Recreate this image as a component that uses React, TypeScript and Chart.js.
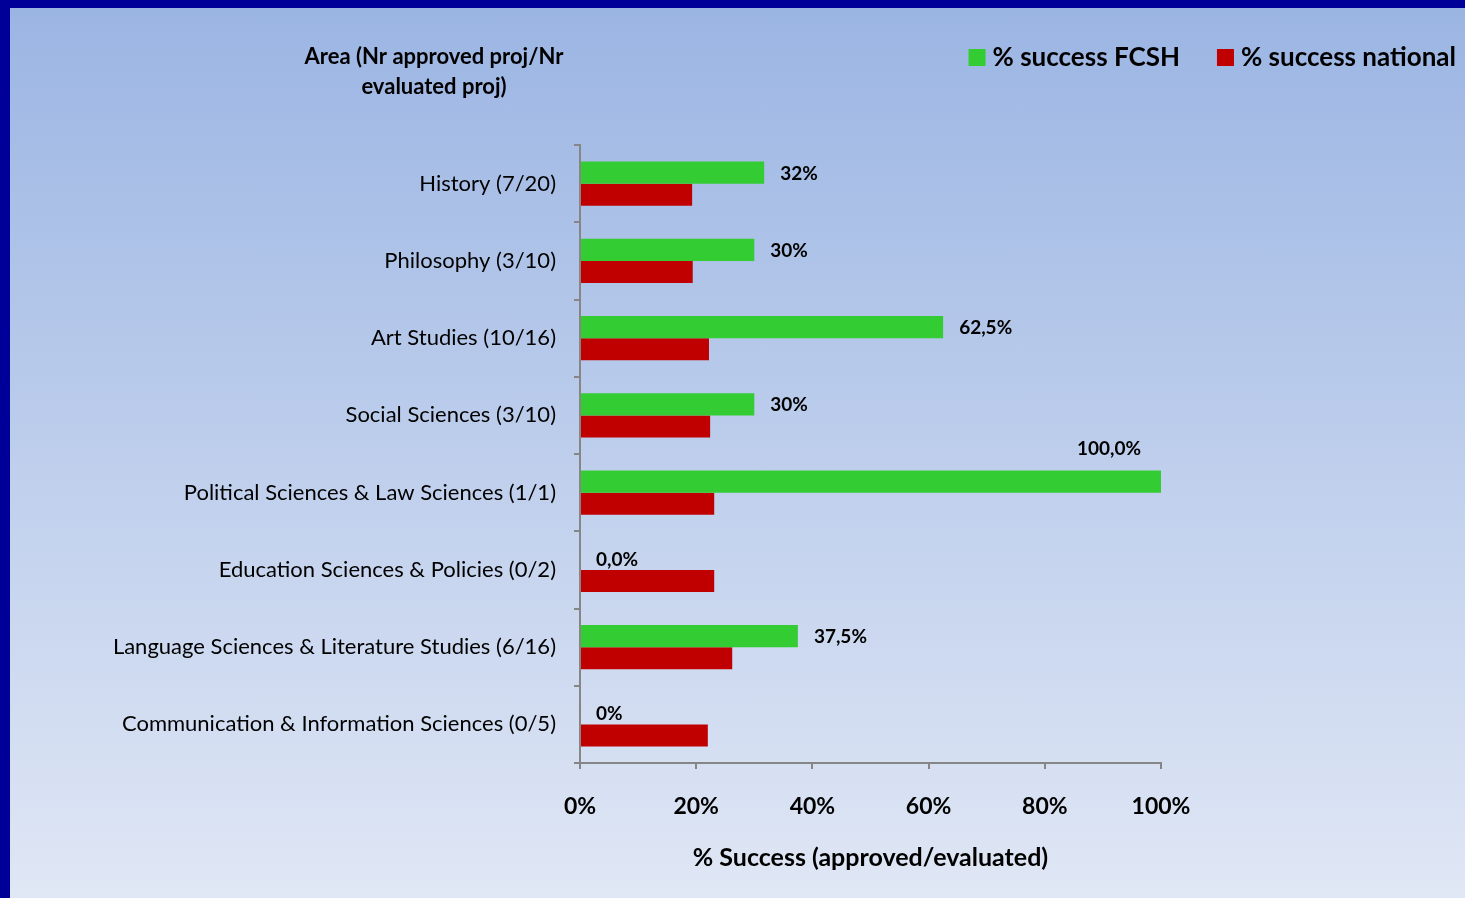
import React, { useEffect, useRef } from "react";
import { Chart, registerables } from "chart.js";

Chart.register(...registerables);

const categories = [
  "History (7/20)",
  "Philosophy (3/10)",
  "Art Studies (10/16)",
  "Social Sciences (3/10)",
  "Political Sciences & Law Sciences (1/1)",
  "Education Sciences & Policies (0/2)",
  "Language Sciences & Literature Studies (6/16)",
  "Communication & Information Sciences (0/5)",
];
const successFCSH = [31.7, 30, 62.5, 30, 100, 0, 37.5, 0];
const successNational = [19.3, 19.4, 22.2, 22.4, 23.1, 23.1, 26.2, 22.0];
const fcshLabels = ["32%", "30%", "62,5%", "30%", "100,0%", "0,0%", "37,5%", "0%"];
const seriesNames = ["% success FCSH", "% success national"];
const seriesColors = ["#33cc33", "#c00000"];
const yTitleLines = ["Area (Nr approved proj/Nr", "evaluated proj)"];
const xTitle = "% Success (approved/evaluated)";

const FONT = "Lato, 'Open Sans', sans-serif";
const W = 1455;
const H = 890;

const extrasPlugin = {
  id: "extras",
  afterDatasetsDraw(chart: any) {
    const ctx = chart.ctx;
    const meta = chart.getDatasetMeta(0);
    const area = chart.chartArea;
    ctx.save();
    ctx.fillStyle = "#000";
    ctx.font = `bold 19px ${FONT}`;
    ctx.textBaseline = "middle";
    meta.data.forEach((bar: any, i: number) => {
      const txt = fcshLabels[i];
      const w = ctx.measureText(txt).width;
      const x = bar.x + 16;
      if (x + w > area.right - 5) {
        ctx.textAlign = "right";
        ctx.fillText(txt, bar.x - 20, bar.y - 33);
      } else {
        ctx.textAlign = "left";
        ctx.fillText(txt, x, bar.y + 1);
      }
    });
    ctx.restore();
  },
  afterDraw(chart: any) {
    const ctx = chart.ctx;
    ctx.save();
    // Y-axis title (horizontal, above the category labels)
    ctx.fillStyle = "#000";
    ctx.font = `bold 22px ${FONT}`;
    ctx.textAlign = "center";
    ctx.textBaseline = "middle";
    yTitleLines.forEach((line, i) => ctx.fillText(line, 424, 49 + i * 30));
    // Legend
    ctx.font = `bold 26px ${FONT}`;
    const box = 17;
    const gapText = 7;
    const gapItem = 37;
    const widths = chart.data.datasets.map(
      (d: any) => box + gapText + ctx.measureText(d.label).width
    );
    const total = widths.reduce((a: number, b: number) => a + b, 0) + gapItem * (widths.length - 1);
    let x = 1446 - total;
    chart.data.datasets.forEach((d: any, i: number) => {
      ctx.fillStyle = d.backgroundColor;
      ctx.fillRect(x, 41, box, box);
      ctx.fillStyle = "#000";
      ctx.textAlign = "left";
      ctx.fillText(d.label, x + box + gapText, 50);
      x += widths[i] + gapItem;
    });
    ctx.restore();
  },
};

export default function App() {
  const ref = useRef<HTMLCanvasElement | null>(null);
  useEffect(() => {
    if (!ref.current) return;
    const chart = new Chart(ref.current, {
      type: "bar",
      data: {
        labels: categories,
        datasets: [
          {
            label: seriesNames[0],
            data: successFCSH,
            backgroundColor: seriesColors[0],
            categoryPercentage: 0.57,
            barPercentage: 1,
          },
          {
            label: seriesNames[1],
            data: successNational,
            backgroundColor: seriesColors[1],
            categoryPercentage: 0.57,
            barPercentage: 1,
          },
        ],
      },
      options: {
        indexAxis: "y",
        responsive: false,
        animation: false,
        layout: { padding: { top: 137, right: 304, left: 0, bottom: 0 } },
        plugins: {
          legend: { display: false },
          tooltip: { enabled: false },
        },
        scales: {
          y: {
            type: "category",
            offset: true,
            afterFit: (s: any) => {
              s.width = 570;
            },
            grid: {
              drawOnChartArea: false,
              drawTicks: true,
              tickLength: 6,
              color: "#868686",
              lineWidth: 2,
              offset: true,
            },
            border: { color: "#868686", width: 2 },
            ticks: {
              color: "#000",
              padding: 18,
              font: { family: FONT, size: 22 },
            },
          },
          x: {
            type: "linear",
            min: 0,
            max: 100,
            afterFit: (s: any) => {
              s.height = 135;
            },
            grid: {
              drawOnChartArea: false,
              drawTicks: true,
              tickLength: 6,
              color: "#868686",
              lineWidth: 2,
            },
            border: { color: "#868686", width: 2 },
            ticks: {
              stepSize: 20,
              color: "#000",
              padding: 24,
              font: { family: FONT, size: 23, weight: "bold" },
              callback: (v: any) => `${v}%`,
            },
            title: {
              display: true,
              text: xTitle,
              color: "#000",
              font: { family: FONT, size: 25, weight: "bold" },
              padding: { top: 0, bottom: 25 },
            },
          },
        },
      },
      plugins: [extrasPlugin],
    });
    return () => chart.destroy();
  }, []);

  return (
    <div
      style={{
        position: "absolute",
        left: 0,
        top: 0,
        width: 1465,
        height: 898,
        boxSizing: "border-box",
        borderTop: "8px solid #000099",
        borderLeft: "10px solid #000099",
        background: "linear-gradient(to bottom, #9bb5e3 0%, #e0e7f5 100%)",
        overflow: "hidden",
      }}
    >
      <canvas ref={ref} width={W} height={H} style={{ display: "block", width: W, height: H }} />
    </div>
  );
}
